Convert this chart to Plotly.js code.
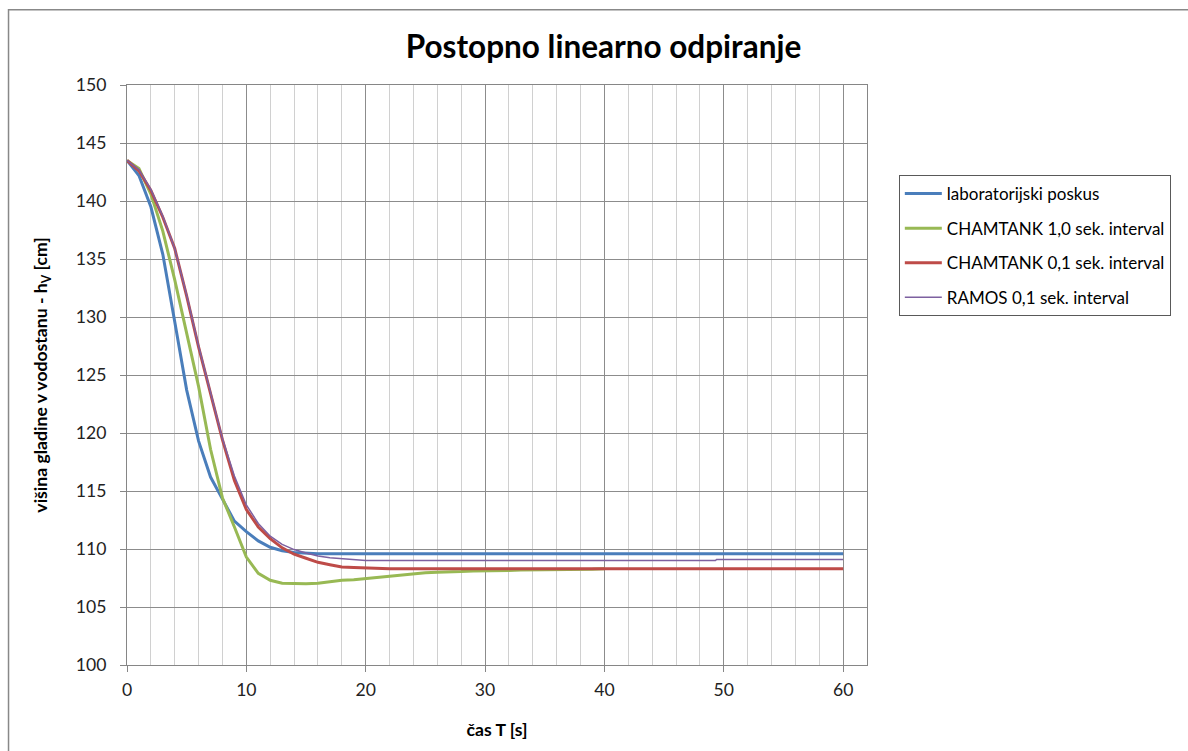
<!DOCTYPE html>
<html>
<head>
<meta charset="utf-8">
<script src="https://cdn.plot.ly/plotly-3.0.1.min.js"></script>
<style>
  html, body { margin: 0; padding: 0; background: #fff; }
  #chart { width: 1188px; height: 751px; }
</style>
</head>
<body>
<div id="chart"></div>
<script>
// ---- data ----
const seriesNames = [
  "laboratorijski poskus",
  "CHAMTANK 1,0 sek. interval",
  "CHAMTANK 0,1 sek. interval",
  "RAMOS 0,1 sek. interval"
];

const labT = [0,1,2,3,4,5,6,7,8,9,10,11,12,13,14,15,16,60];
const labH = [143.5,142.2,139.5,135.4,129.6,123.7,119.3,116.2,114.3,112.4,111.5,110.7,110.15,109.85,109.7,109.65,109.6,109.6];

const cham10T = [0,1,2,3,4,5,6,7,8,9,10,11,12,13,14,15,16,17,18,19,20,21,22,23,24,25,26,27,28,29,30,31,32,33,34,35,36,37,38,39,40];
const cham10H = [143.5,142.8,140.6,137.4,133.2,128.7,124.0,118.6,114.4,111.9,109.3,107.9,107.3,107.05,107.0,107.0,107.05,107.2,107.3,107.35,107.45,107.6,107.7,107.8,107.9,107.95,108.0,108.0,108.05,108.1,108.1,108.15,108.15,108.2,108.2,108.2,108.2,108.2,108.25,108.25,108.3];

const cham01T = [0,1,2,3,4,5,6,7,8,9,10,11,12,13,14,15,16,17,18,19,20,21,22,60];
const cham01H = [143.5,142.6,140.9,138.6,135.9,131.8,127.4,123.3,119.4,115.9,113.4,111.9,110.9,110.1,109.55,109.2,108.85,108.65,108.45,108.4,108.35,108.3,108.3,108.3];

const ramosT = [0,1,2,3,4,5,6,7,8,9,10,11,12,13,14,15,16,17,18,19,20,49.3,49.4,60];
const ramosH = [143.5,142.7,141.0,138.7,135.9,131.9,127.5,123.4,119.5,116.3,113.8,112.2,111.1,110.4,109.95,109.65,109.4,109.25,109.15,109.05,109.0,109.0,109.1,109.1];

const xTickVals = [0,10,20,30,40,50,60];
const yTickVals = [100,105,110,115,120,125,130,135,140,145,150];

const colors = ["#4A7EBB", "#98B954", "#BE4B48", "#7D60A0"];
const widths = [3, 3, 3, 1.5];

const xs = [labT, cham10T, cham01T, ramosT];
const ys = [labH, cham10H, cham01H, ramosH];

const traces = seriesNames.map((n, i) => ({
  type: "scatter",
  mode: "lines",
  name: n,
  x: xs[i],
  y: ys[i],
  legendgroup: "g" + i,
  line: { color: colors[i], width: widths[i] },
  hoverinfo: "skip"
}));

const FONT = "Lato, 'Open Sans', sans-serif";
const FS = 17.6;

const layout = {
  width: 1188,
  height: 751,
  margin: { l: 127, r: 321, t: 85, b: 86, autoexpand: false },
  paper_bgcolor: "#ffffff",
  plot_bgcolor: "#ffffff",
  font: { family: FONT, color: "#000000", size: FS },
  title: {
    text: "<b>Postopno linearno odpiranje</b>",
    font: { family: FONT, size: 31.5, color: "#000000" },
    xref: "container", yref: "container",
    x: 0.508, y: 0.937, xanchor: "center", yanchor: "middle"
  },
  xaxis: {
    range: [0, 62],
    tickvals: xTickVals,
    ticktext: xTickVals.map(String),
    ticks: "outside", ticklen: 6, tickcolor: "#868686", tickwidth: 1,
    ticklabelstandoff: 3,
    showline: true, linecolor: "#868686", linewidth: 1, mirror: true,
    showgrid: true, gridcolor: "#8c8c8c", gridwidth: 1,
    minor: { dtick: 2, tick0: 0, showgrid: true, gridcolor: "#d0d0d0", gridwidth: 1, ticks: "" },
    zeroline: false,
    tickfont: { family: FONT, size: FS, color: "#222" },
    title: { text: "<b>čas T [s]</b>", font: { family: FONT, size: FS, color: "#000" }, standoff: 24 }
  },
  yaxis: {
    range: [100, 150],
    tickvals: yTickVals,
    ticktext: yTickVals.map(String),
    ticks: "outside", ticklen: 6, tickcolor: "#868686", tickwidth: 1,
    ticklabelstandoff: 10,
    showline: true, linecolor: "#868686", linewidth: 1, mirror: true,
    showgrid: true, gridcolor: "#8c8c8c", gridwidth: 1,
    zeroline: false,
    tickfont: { family: FONT, size: FS, color: "#222" },
    title: { text: "<b>višina gladine v vodostanu - h<sub>V</sub> [cm]</b>", font: { family: FONT, size: FS, color: "#000" }, standoff: 23 }
  },
  legend: {
    x: 1.043, y: 0.8448, xanchor: "left", yanchor: "top",
    bgcolor: "#ffffff", bordercolor: "#595959", borderwidth: 1,
    font: { family: FONT, size: 17, color: "#000" },
    traceorder: "grouped", tracegroupgap: 9.5,
    itemwidth: 37
  },
  shapes: [{
    type: "rect", xref: "paper", yref: "paper",
    x0: -0.1601, x1: 2.0, y0: -1.0, y1: 1.1297,
    line: { color: "#888888", width: 1.5 }, fillcolor: "rgba(0,0,0,0)", layer: "below"
  }],
  showlegend: true
};

Plotly.newPlot("chart", traces, layout, { displayModeBar: false, staticPlot: true });
</script>
</body>
</html>
